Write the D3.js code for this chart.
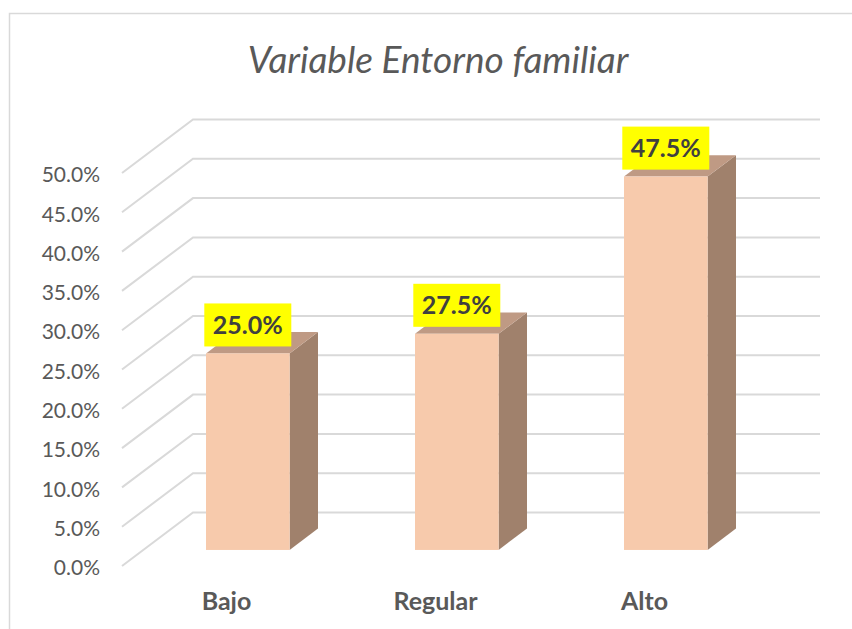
<!DOCTYPE html>
<html>
<head>
<meta charset="utf-8">
<script src="https://cdn.jsdelivr.net/npm/d3@7"></script>
<style>
  html, body { margin: 0; padding: 0; background: #fff; }
  svg { display: block; font-family: Lato, "Open Sans", sans-serif; }
</style>
</head>
<body>
<svg id="chart" width="852" height="629"></svg>
<script>
// datos
var categories = ['Bajo', 'Regular', 'Alto'];
var values = [0.25, 0.275, 0.475];
var valueLabels = ['25.0%', '27.5%', '47.5%'];
var yTicks = [0, 0.05, 0.10, 0.15, 0.20, 0.25, 0.30, 0.35, 0.40, 0.45, 0.50];
var title = 'Variable Entorno familiar';

(function () {
    var svg = d3.select('#chart');

    // proyección "3D": profundidad d (0 = frente, 1 = pared del fondo)
    var DX = 71, DY = 53.5;
    function proj(x, y, d) { return [x + d * DX, y - d * DY]; }

    var x = d3.scaleBand().domain(categories).range([122, 749]).paddingInner(0).paddingOuter(0);
    var y = d3.scaleLinear().domain([0, 0.5]).range([566, 173]);

    // marco del gráfico (solo arriba e izquierda visibles)
    svg.append('path')
        .attr('d', 'M9.5,629 L9.5,13.5 L852,13.5')
        .attr('fill', 'none')
        .attr('stroke', '#d9d9d9')
        .attr('stroke-width', 1.5);

    // título
    svg.append('text')
        .attr('x', 438).attr('y', 72.5)
        .attr('text-anchor', 'middle')
        .attr('font-style', 'italic')
        .attr('font-size', 37)
        .attr('fill', '#595959')
        .text(title);

    // líneas de cuadrícula: pared lateral + pared del fondo
    var xEnd = x.range()[1] + DX;
    svg.append('g').attr('class', 'grid')
        .selectAll('path').data(yTicks).join('path')
        .attr('d', function (v) {
            var a = proj(x.range()[0], y(v), 0);
            var b = proj(x.range()[0], y(v), 1);
            return 'M' + a + 'L' + b + 'L' + xEnd + ',' + b[1];
        })
        .attr('fill', 'none')
        .attr('stroke', '#d9d9d9')
        .attr('stroke-width', 2);

    // eje Y
    var yAxis = d3.axisLeft(y).tickValues(yTicks).tickFormat(d3.format('.1%')).tickSize(0).tickPadding(0);
    var gy = svg.append('g').attr('transform', 'translate(100,2)').call(yAxis);
    gy.select('.domain').remove();
    gy.selectAll('text')
        .attr('font-family', 'Lato, "Open Sans", sans-serif')
        .attr('font-size', 21)
        .attr('fill', '#595959');

    // barras
    var D0 = 0.3, D1 = 0.7;
    var bw = x.bandwidth() * 0.4;
    var bars = categories.map(function (c, i) {
        var xc = x(c) + x.bandwidth() / 2 + D0 * DX;
        return {
            cat: c, v: values[i], label: valueLabels[i],
            xl: xc - bw / 2, xr: xc + bw / 2, xc: xc,
            yb: y(0) - D0 * DY, yt: y(values[i]) - D0 * DY
        };
    });
    var dd = D1 - D0;
    var gb = svg.append('g').attr('class', 'bars')
        .selectAll('g').data(bars).join('g');

    // cara lateral
    gb.append('path')
        .attr('d', function (b) {
            return 'M' + b.xr + ',' + b.yb +
                'L' + b.xr + ',' + b.yt +
                'L' + (b.xr + dd * DX) + ',' + (b.yt - dd * DY) +
                'L' + (b.xr + dd * DX) + ',' + (b.yb - dd * DY) + 'Z';
        })
        .attr('fill', '#a0816c');
    // cara superior
    gb.append('path')
        .attr('d', function (b) {
            return 'M' + b.xl + ',' + b.yt +
                'L' + b.xr + ',' + b.yt +
                'L' + (b.xr + dd * DX) + ',' + (b.yt - dd * DY) +
                'L' + (b.xl + dd * DX) + ',' + (b.yt - dd * DY) + 'Z';
        })
        .attr('fill', '#bf9a84');
    // cara frontal
    gb.append('rect')
        .attr('x', function (b) { return b.xl; })
        .attr('y', function (b) { return b.yt; })
        .attr('width', bw)
        .attr('height', function (b) { return b.yb - b.yt; })
        .attr('fill', '#f7caac');

    // etiquetas de datos (caja amarilla)
    var BW = 87, BH = 43;
    gb.append('rect')
        .attr('x', function (b) { return b.xc - BW / 2; })
        .attr('y', function (b) { return b.yt - 28.5 - BH / 2; })
        .attr('width', BW).attr('height', BH)
        .attr('fill', '#ffff00');
    gb.append('text')
        .attr('x', function (b) { return b.xc; })
        .attr('y', function (b) { return b.yt - 28.5; })
        .attr('dy', '0.36em')
        .attr('text-anchor', 'middle')
        .attr('font-weight', 700)
        .attr('font-size', 25)
        .attr('fill', '#404040')
        .text(function (b) { return b.label; });

    // etiquetas de categoría
    svg.append('g').selectAll('text').data(categories).join('text')
        .attr('x', function (c) { return x(c) + x.bandwidth() / 2; })
        .attr('y', 610)
        .attr('text-anchor', 'middle')
        .attr('font-weight', 700)
        .attr('font-size', 25)
        .attr('fill', '#595959')
        .text(function (c) { return c; });
})();
</script>
</body>
</html>
